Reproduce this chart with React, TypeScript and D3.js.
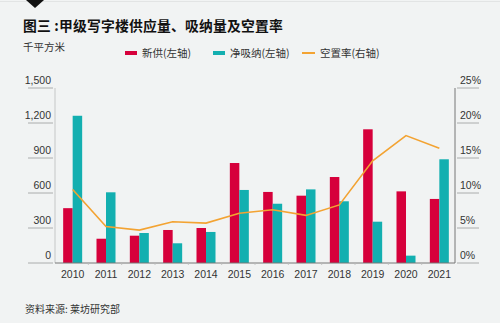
import React from "react";
import * as d3 from "d3";

const years = ["2010","2011","2012","2013","2014","2015","2016","2017","2018","2019","2020","2021"];
const supply = [470, 208, 234, 283, 300, 857, 609, 577, 737, 1146, 614, 549];
const absorption = [1262, 606, 257, 169, 266, 626, 508, 631, 529, 354, 63, 889];
const vacancy = [10.5, 5.2, 4.7, 5.9, 5.7, 7.1, 7.6, 6.8, 8.3, 14.6, 18.2, 16.4];
const leftTicks = [0, 300, 600, 900, 1200, 1500];
const rightTicks = [0, 5, 10, 15, 20, 25];

const RED = "#d6003b";
const TEAL = "#13afb0";
const ORANGE = "#f3a332";
const CJK = "'Noto Sans CJK SC', 'Liberation Sans', sans-serif";
const LAT = "'Liberation Sans', Arial, sans-serif";

export default function App() {
  const W = 500, H = 323;
  const x0 = 55, x1 = 455, yTop = 88, yBot = 263;
  const x = d3.scaleBand<string>().domain(years).range([x0, x1]);
  const yL = d3.scaleLinear().domain([0, 1500]).range([yBot, yTop]);
  const yR = d3.scaleLinear().domain([0, 25]).range([yBot, yTop]);
  const bw = 9.5;
  const line = d3.line<number>()
    .x((_, i) => (x(years[i]) as number) + x.bandwidth() / 2 + 1)
    .y((d) => yR(d));

  return (
    <svg width={W} height={H} style={{ position: "absolute", left: 0, top: 0 }}>
      <rect x={0} y={0} width={W} height={H} fill="#f1f3f3" />
      <line x1={0} x2={W} y1={1.5} y2={1.5} stroke="#e2e4e4" strokeWidth={1} />
      <path d="M26,0 L44,0 L35,8 Z" fill="#111" />
      <text x={23} y={31} fontFamily={CJK} fontSize={13.8} fontWeight={700} letterSpacing={0.2} fill="#111">图三 :甲级写字楼供应量、吸纳量及空置率</text>
      <text x={23} y={51} fontFamily={CJK} fontSize={10.5} fill="#333">千平方米</text>

      {/* legend */}
      <rect x={125} y={51} width={12} height={4} fill={RED} />
      <text x={142} y={57} fontFamily={CJK} fontSize={10.5} fill="#333">新供(左轴)</text>
      <rect x={213} y={51} width={12} height={4} fill={TEAL} />
      <text x={230} y={57} fontFamily={CJK} fontSize={10.5} fill="#333">净吸纳(左轴)</text>
      <line x1={302} x2={315} y1={53} y2={53} stroke={ORANGE} strokeWidth={2} />
      <text x={320} y={57} fontFamily={CJK} fontSize={10.5} fill="#333">空置率(右轴)</text>

      {/* left axis ticks */}
      {leftTicks.map((t) => (
        <g key={"l" + t}>
          <line x1={28} x2={53} y1={yL(t)} y2={yL(t)} stroke="#999" strokeWidth={0.8} />
          <text x={51} y={yL(t) - 4} textAnchor="end" fontFamily={LAT} fontSize={10.5} fill="#333">{d3.format(",")(t)}</text>
        </g>
      ))}
      {rightTicks.map((t) => (
        <g key={"r" + t}>
          <line x1={457} x2={479} y1={yR(t)} y2={yR(t)} stroke="#999" strokeWidth={0.8} />
          <text x={460} y={yR(t) - 4} fontFamily={LAT} fontSize={10.5} fill="#333">{t + "%"}</text>
        </g>
      ))}

      {/* bars */}
      {years.map((yr, i) => {
        const cx = (x(yr) as number) + x.bandwidth() / 2 + 1;
        return (
          <g key={yr}>
            <rect x={cx - bw} y={yL(supply[i])} width={bw} height={yBot - yL(supply[i])} fill={RED} />
            <rect x={cx} y={yL(absorption[i])} width={bw} height={yBot - yL(absorption[i])} fill={TEAL} />
            <text x={cx} y={278} textAnchor="middle" fontFamily={LAT} fontSize={10.5} fill="#333">{yr}</text>
          </g>
        );
      })}

      <path d={line(vacancy) || ""} fill="none" stroke={ORANGE} strokeWidth={1.6} />

      {/* axes */}
      <line x1={x0} x2={x0} y1={yTop} y2={yBot} stroke="#bbb" strokeWidth={0.8} />
      <line x1={x1} x2={x1} y1={yTop} y2={yBot} stroke="#777" strokeWidth={1} />
      <line x1={x0} x2={x1} y1={yBot} y2={yBot} stroke="#777" strokeWidth={1} />
      {years.slice(1).map((yr) => (
        <line key={"t" + yr} x1={x(yr) as number} x2={x(yr) as number} y1={yBot} y2={yBot + 2} stroke="#bbb" strokeWidth={0.8} />
      ))}

      <text x={25} y={313} fontFamily={CJK} fontSize={10} fill="#333">资料来源: 莱坊研究部</text>
    </svg>
  );
}
